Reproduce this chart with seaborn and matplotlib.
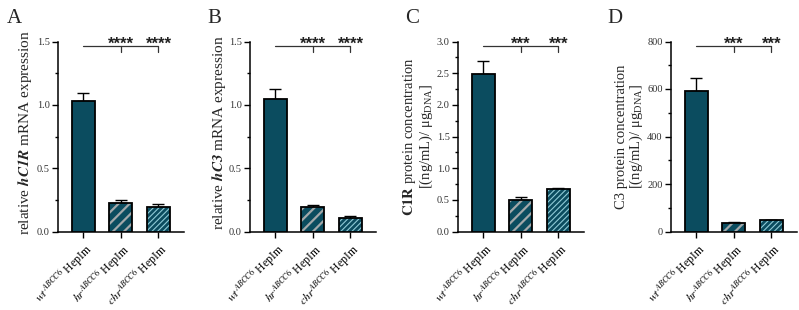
import numpy as np
import matplotlib
matplotlib.use('Agg')
import matplotlib.pyplot as plt
import matplotlib.ticker as mtick
from matplotlib.patches import Rectangle
import seaborn as sns

sns.set_theme(style='ticks')
plt.rcParams['font.family'] = ['Liberation Serif', 'DejaVu Serif']
plt.rcParams['mathtext.fontset'] = 'stix'

# Data (mean, SEM)
groups = ['wt', 'hr', 'chr']
tick_labels = [r'$\mathit{wt}^{\mathit{ABCC6}}$ HepIm',
               r'$\mathit{hr}^{\mathit{ABCC6}}$ HepIm',
               r'$\mathit{chr}^{\mathit{ABCC6}}$ HepIm']

c1r_mrna = [1.03, 0.225, 0.19]
c1r_mrna_err = [0.06, 0.02, 0.025]
c3_mrna = [1.045, 0.195, 0.105]
c3_mrna_err = [0.08, 0.012, 0.02]
c1r_prot = [2.48, 0.49, 0.67]
c1r_prot_err = [0.21, 0.06, 0.02]
c3_prot = [592, 36, 47]
c3_prot_err = [53, 6, 2]

stars = ['****', '****', '***', '***']
letters = ['A', 'B', 'C', 'D']
ylabels = [r'relative $\mathbfit{hC1R}$ mRNA expression',
           r'relative $\mathbfit{hC3}$ mRNA expression',
           r'$\mathbf{C1R}$ protein concentration' + '\n' + r'[(ng/mL)/ μg$_{\mathregular{DNA}}$]',
           'C3 protein concentration' + '\n' + r'[(ng/mL)/ μg$_{\mathregular{DNA}}$]']

teal = '#0b4c5f'
hatch_cfg = [None, ('///', '#a3a8aa', 1.6), ('//////', '#8fcad6', 0.8)]

W, H = 799, 310
fig = plt.figure(figsize=(W / 100, H / 100), dpi=100)

# values, errors, ymax, major, minor, fmt, axes left px, label right px, label y, label size
panels = [
    (c1r_mrna, c1r_mrna_err, 1.5, 0.5, 0.25, '{x:.1f}', 58, 34, 0.52, 11),
    (c3_mrna, c3_mrna_err, 1.5, 0.5, 0.25, '{x:.1f}', 250, 228, 0.52, 11),
    (c1r_prot, c1r_prot_err, 3.0, 0.5, 0.25, '{x:.1f}', 458, 435, 0.5, 10.5),
    (c3_prot, c3_prot_err, 800, 200, 100, '{x:.0f}', 671, 645, 0.5, 10.5),
]
letter_x = [7, 207, 405, 607]

for i, (vals, errs, ymax, major, minor, fmt, left_px, lab_px, lab_y, lab_fs) in enumerate(panels):
    ax = fig.add_axes([left_px / W, (H - 231.5) / H, 126 / W, 190 / H])
    sns.barplot(x=groups, y=vals, color=teal, width=0.62, saturation=1,
                errorbar=None, ax=ax, zorder=3)
    ax.errorbar(range(3), vals, yerr=[np.zeros(3), errs], fmt='none',
                ecolor='black', elinewidth=1.0, capsize=4, capthick=1.0, zorder=2)
    for p, h in zip(ax.patches, hatch_cfg):
        p.set_linewidth(0)
        if h is not None:
            p.set_hatch(h[0])
            p.set_edgecolor(h[1])
            p.set_hatch_linewidth(h[2])
        ax.add_patch(Rectangle(p.get_xy(), p.get_width(), p.get_height(),
                               fill=False, ec='black', lw=1.3, zorder=4))

    ax.set_xlim(-0.67, 2.68)
    ax.set_ylim(0, ymax)
    ax.yaxis.set_major_locator(mtick.MultipleLocator(major))
    ax.yaxis.set_minor_locator(mtick.MultipleLocator(minor))
    ax.yaxis.set_major_formatter(mtick.StrMethodFormatter(fmt))
    sns.despine(ax=ax)
    for s in ['left', 'bottom']:
        ax.spines[s].set_linewidth(1.1)
        ax.spines[s].set_color('black')
    ax.tick_params(axis='y', which='major', length=4, width=1.0, labelsize=7.5,
                   pad=2, colors='black', labelcolor='#333333')
    ax.tick_params(axis='y', which='minor', length=2.5, width=1.0, colors='black')
    ax.tick_params(axis='x', length=4.5, width=1.0, pad=2, colors='black')
    ax.set_xticks(range(3))
    ax.set_xticklabels(tick_labels, rotation=45, ha='right',
                       rotation_mode='anchor', fontsize=8.5)
    ax.set_xlabel('')
    ax.set_ylabel(ylabels[i], fontsize=lab_fs, linespacing=0.95)
    ax.yaxis.set_label_coords((lab_px - left_px) / 126, lab_y)

    # significance bracket
    ly, ty = 0.974, 0.947
    ax.plot([0, 2], [ly, ly], color='#333333', lw=0.9,
            transform=ax.get_xaxis_transform(), clip_on=False)
    for xt in [1, 2]:
        ax.plot([xt, xt], [ly, ty], color='#333333', lw=0.9,
                transform=ax.get_xaxis_transform(), clip_on=False)
        ax.annotate(stars[i], xy=(xt, ly), xycoords=ax.get_xaxis_transform(),
                    xytext=(0, -1.8), textcoords='offset points',
                    ha='center', va='baseline', fontsize=12,
                    fontweight='bold', family='Liberation Sans',
                    color='#222222', annotation_clip=False)

    fig.text(letter_x[i] / W, 1 - 23 / H, letters[i], fontsize=15,
             ha='left', va='baseline')

fig.savefig('out.png', dpi=100)
